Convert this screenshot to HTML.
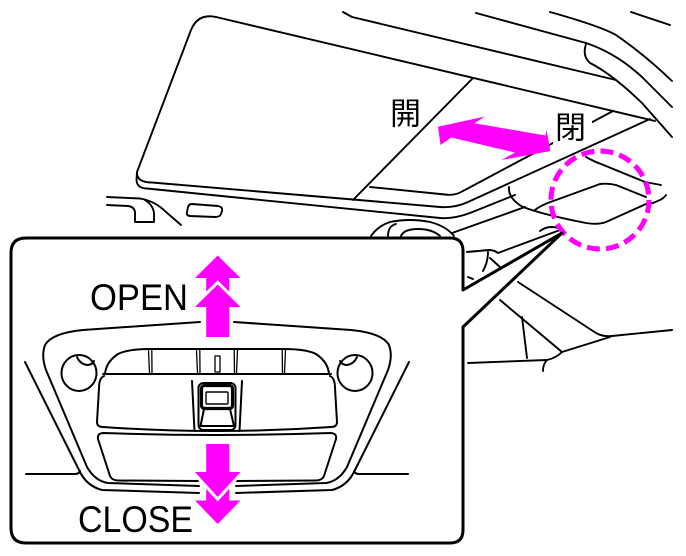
<!DOCTYPE html>
<html><head><meta charset="utf-8"><style>
html,body{margin:0;padding:0;background:#fff;}
svg{display:block;}
</style></head><body>
<svg width="686" height="556" viewBox="0 0 686 556" xmlns="http://www.w3.org/2000/svg">
<rect width="686" height="556" fill="#fff"/>
<g fill="none" stroke="#000" stroke-width="1.9" stroke-linecap="round" stroke-linejoin="round">
 <!-- top right roof lines -->
 <path d="M343,12 L352,17 L616,80"/>
 <path d="M476,13 L586,43 Q616,53 642,77 L672,107"/>
 <path d="M586,44 Q582,56 590,63 Q612,74 642,103 L672,137"/>
 <path d="M550,12 Q600,26 616,35 Q645,55 672,81"/>
 <path d="M631,12 L670,25"/>
 <!-- sunroof glass -->
 <path d="M216,17 L655,121"/>
 <path d="M216,17 Q198,13 191,30 L137,172 L136.5,180 Q137,188.5 147,188.5 L440,218 Q454,219 470,213 L515,195"/>
 <path d="M137,174 Q138,182.5 152,182.5 L353,199.5 L440,207 Q455,208 468,202 L650,119"/>
 <path d="M473,78 L353,200"/>
 <path d="M370,187 L445,194.5 Q455,196 463,191 L613,111"/>
 <!-- left car bits -->
 <path d="M107,197 L140,198.5 Q155,201 166,212 L181,225"/>
 <path d="M107,205 L128,206 Q135,207 135,213 L135,222 L154,222 L154,213 Q153,205 145,200"/>
 <path d="M192,204 L218,206 Q223,207 222,211 L221,214 Q220,217 215,217 L190,216 Q186,215.5 187,212 L188,207 Q189,204 192,204 Z"/>
 <!-- seats -->
 <path d="M371,236 Q378,226 390,222 Q410,218 430,222 Q446,226 454,236"/>
 <path d="M388,236 Q388,226 396,224"/>
 <path d="M401,236 Q404,229 418,229 Q432,229 440,236"/>
 <path d="M452,233 L525,207"/>
 <path d="M540,231 Q548,225 558,228"/>
 <!-- console -->
 <path d="M509,187 Q508,198 522,206.5 Q540,214 586,223 Q598,225 606,222 L646,204 L653,203 L660,200 Q664,198 666,195"/>
 <path d="M535,210 Q541,205 556,200 L600,184 Q608,183 616,185 L646,197"/>
 <path d="M586,157 Q595,162 601,164 L645,182 L661,185"/>
 <!-- right side lines -->
 <path d="M467,252 L489,250 Q494,250 498,253 L560,230"/>
 <path d="M488,252 Q488,262 483,271"/>
 <path d="M468,277 L473,279"/>
 <path d="M490,258 L500,267"/>
 <path d="M518,282 L596,333 Q603,337 612,336 L672,330"/>
 <path d="M500,300 L562,352"/>
 <path d="M522,317 L527,358"/>
 <path d="M468,363 L547,360 Q556,358 562,352 L610,337"/>
 <path d="M547,360 Q543,364 543,371"/>
</g>

<!-- label mask & labels -->
<rect x="553" y="108" width="39" height="36" fill="#fff"/>
<text x="390" y="124.5" font-size="31" font-family="'Liberation Sans','Noto Sans CJK JP',sans-serif" fill="#000">開</text>
<text x="555" y="138.5" font-size="31" font-family="'Liberation Sans','Noto Sans CJK JP',sans-serif" fill="#000">閉</text>

<!-- sunroof double arrow -->
<polygon fill="#ff00ff" points="438,126.7 485,116.5 474.5,123.3 545.5,135.5 546.6,130 550.3,151 501.7,160 515,152.5 451.3,137.5 440.5,145"/>

<!-- dashed circle -->
<circle cx="600" cy="200" r="49" fill="none" stroke="#ff00ff" stroke-width="5" stroke-dasharray="13 6.25"/>

<!-- inset box with callout -->
<path d="M26,238 L450,238 Q463,238 463,251 L463,290 L562,233 L463,327 L463,530 Q463,543 450,543 L26,543 Q11,543 11,528 L11,253 Q11,238 26,238 Z" fill="#fff" stroke="#000" stroke-width="3" stroke-linejoin="round"/>

<g fill="none" stroke="#000" stroke-width="2" stroke-linecap="round" stroke-linejoin="round">
 <!-- far trim lines -->
 <path d="M25,362 L80,472 Q87,486 102,490 L199,493"/>
 <path d="M26,474 L75,474 Q79,474 80,471"/>
 <path d="M409,362 L354,472 Q347,486 332,490 L236,493"/>
 <path d="M408,474 L359,474 Q355,474 354,471"/>
 <!-- housing -->
 <path d="M200,322 L83,330 Q52,333 45,345 Q41,356 46,370 L87,467 Q95,481 108,483 L199,486"/>
 <path d="M234,322 L351,330 Q382,333 389,345 Q393,356 388,370 L347,467 Q339,481 326,483 L236,486"/>
 <!-- lamps -->
 <ellipse cx="79" cy="373" rx="17.5" ry="18"/>
 <path d="M77,357 Q80,364 87,365 Q92,365 94,361"/>
 <ellipse cx="355" cy="373" rx="17.5" ry="18"/>
 <path d="M357,357 Q354,364 347,365 Q342,365 340,361"/>
 <!-- upper panel -->
 <path d="M105,374 Q106,362 118,354 Q128,349 150,349 L284,349 Q306,349 316,354 Q328,362 329,374"/>
 <path d="M103,374 L331,374"/>
 <path d="M104,376 Q99,378 99,388 L97,422 Q97,427 103,427 Q217,435 331,427 Q337,427 337,422 L335,388 Q335,378 330,376"/>
 <path d="M192,381 L194.5,431"/>
 <path d="M242,381 L239.5,431"/>
 <!-- switch -->
 <rect x="198.5" y="383" width="37" height="47" rx="5"/>
 <rect x="201.5" y="385.5" width="31" height="23" rx="3" stroke-width="3.2"/>
 <rect x="206" y="392" width="22" height="12" rx="1" stroke-width="1.4"/>
 <path d="M204,409 L200.5,426 L234,426 L230,409"/>
 <!-- ticks -->
 <g stroke-width="1.3">
  <path d="M148.5,350 L149.5,373 M151.8,350 L152,373"/>
  <path d="M196.5,350 L197.5,373 M199.8,350 L200,373"/>
  <path d="M234.2,350 L234.5,373 M237.5,350 L236.5,373"/>
  <path d="M282.2,350 L282.5,373 M285.5,350 L284.5,373"/>
  <rect x="215" y="356" width="5" height="16"/>
 </g>
 <!-- lower panel -->
 <path d="M110,476 L98,439 Q97,433 104,433 Q217,437 330,433 Q337,433 336,439 L324,476"/>
 <path d="M110,476 Q112,480.5 118,480.5 L198,481"/>
 <path d="M324,476 Q322,480.5 316,480.5 L236,481"/>
</g>

<!-- OPEN arrow -->
<polygon fill="#ff00ff" points="217.7,255.5 240.5,278 229.3,278 229.3,300 206.2,300 206.2,278 195,278"/>
<polygon fill="#ff00ff" stroke="#fff" stroke-width="6" paint-order="stroke" stroke-linejoin="miter" points="217.7,284.5 240.5,307 229.3,307 229.3,337 206.2,337 206.2,307 195,307"/>
<!-- CLOSE arrow -->
<polygon fill="#ff00ff" points="206.2,478 229.3,478 229.3,500.5 240.5,500.5 217.7,524 195,500.5 206.2,500.5"/>
<polygon fill="#ff00ff" stroke="#fff" stroke-width="6" paint-order="stroke" stroke-linejoin="miter" points="206.2,444 229.3,444 229.3,472 240.5,472 217.7,497 195,472 206.2,472"/>

<text x="90" y="310" font-size="37" font-family="'Liberation Sans',sans-serif" textLength="98" lengthAdjust="spacingAndGlyphs" fill="#000">OPEN</text>
<text x="78" y="532" font-size="37" font-family="'Liberation Sans',sans-serif" textLength="115" lengthAdjust="spacingAndGlyphs" fill="#000">CLOSE</text>
</svg>
</body></html>
